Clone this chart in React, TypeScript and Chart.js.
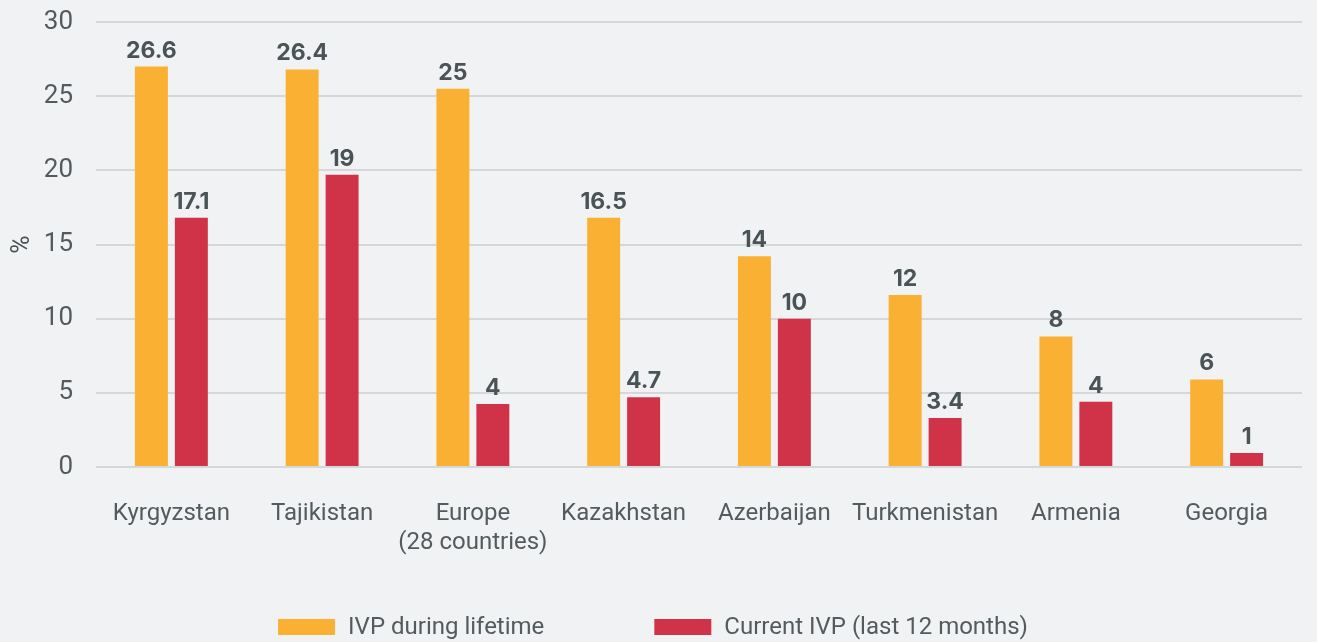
import React, { useEffect, useRef } from 'react';
import { Chart, registerables } from 'chart.js';

Chart.register(...registerables);

const categories: (string | string[])[] = [
  'Kyrgyzstan',
  'Tajikistan',
  ['Europe', '(28 countries)'],
  'Kazakhstan',
  'Azerbaijan',
  'Turkmenistan',
  'Armenia',
  'Georgia',
];

const lifetimeValues = [27.0, 26.8, 25.5, 16.8, 14.2, 11.6, 8.8, 5.9];
const currentValues = [16.8, 19.7, 4.25, 4.7, 10.0, 3.3, 4.4, 0.95];

const lifetimeLabels = ['26.6', '26.4', '25', '16.5', '14', '12', '8', '6'];
const currentLabels = ['17.1', '19', '4', '4.7', '10', '3.4', '4', '1'];

const seriesNames = ['IVP during lifetime', 'Current IVP (last 12 months)'];

const yTicks = [0, 5, 10, 15, 20, 25, 30];

const ORANGE = '#FAB032';
const RED = '#D03248';
const BG = '#F1F2F4';
const TEXT = '#535b5f';
const LABEL = '#4a5356';

const bgPlugin = {
  id: 'bgFill',
  beforeDraw(chart: any) {
    const ctx = chart.ctx;
    ctx.save();
    ctx.fillStyle = BG;
    ctx.fillRect(0, 0, chart.width, chart.height);
    ctx.restore();
  },
};

const valueLabelPlugin = {
  id: 'valueLabels',
  afterDatasetsDraw(chart: any) {
    const ctx = chart.ctx;
    const labelSets = [lifetimeLabels, currentLabels];
    ctx.save();
    ctx.font = '700 23px Inter';
    ctx.fillStyle = LABEL;
    ctx.textAlign = 'center';
    ctx.textBaseline = 'alphabetic';
    chart.data.datasets.forEach((_ds: any, di: number) => {
      const meta = chart.getDatasetMeta(di);
      meta.data.forEach((el: any, i: number) => {
        ctx.fillText(labelSets[di][i], el.x, el.y - 9);
      });
    });
    ctx.restore();
  },
};

const legendPlugin = {
  id: 'bottomLegend',
  afterDraw(chart: any) {
    const ctx = chart.ctx;
    ctx.save();
    ctx.font = '400 24px Roboto';
    ctx.textBaseline = 'middle';
    ctx.textAlign = 'left';
    const items = chart.data.datasets.map((ds: any) => ({
      text: ds.label as string,
      color: ds.backgroundColor as string,
    }));
    const boxW = 57;
    const boxH = 16;
    const gapText = 13;
    const gapItem = 110;
    const widths = items.map((it: any) => boxW + gapText + ctx.measureText(it.text).width);
    const total = widths.reduce((a: number, b: number) => a + b, 0) + gapItem * (items.length - 1);
    let x = chart.width / 2 - 5.5 - total / 2;
    const cy = 627;
    items.forEach((it: any, i: number) => {
      ctx.fillStyle = it.color;
      ctx.fillRect(x, cy - boxH / 2, boxW, boxH);
      ctx.fillStyle = TEXT;
      ctx.fillText(it.text, x + boxW + gapText, cy + 1);
      x += widths[i] + gapItem;
    });
    ctx.restore();
  },
};

export default function App() {
  const canvasRef = useRef<HTMLCanvasElement | null>(null);

  useEffect(() => {
    document.body.style.margin = '0';
    document.body.style.background = BG;
    const canvas = canvasRef.current;
    if (!canvas) return;
    const chart = new Chart(canvas, {
      type: 'bar',
      data: {
        labels: categories,
        datasets: [
          {
            label: seriesNames[0],
            data: lifetimeValues,
            backgroundColor: ORANGE,
            borderWidth: 0,
            barPercentage: 0.825,
            categoryPercentage: 0.53,
          },
          {
            label: seriesNames[1],
            data: currentValues,
            backgroundColor: RED,
            borderWidth: 0,
            barPercentage: 0.825,
            categoryPercentage: 0.53,
          },
        ],
      },
      options: {
        responsive: false,
        maintainAspectRatio: false,
        animation: false,
        devicePixelRatio: 1,
        layout: { padding: { top: 22, left: 8, right: 15, bottom: 0 } },
        plugins: {
          legend: { display: false },
          tooltip: { enabled: false },
        },
        scales: {
          x: {
            grid: { display: false },
            border: { display: false },
            ticks: {
              color: TEXT,
              font: { family: 'Roboto', size: 24, lineHeight: 1.2 },
              padding: 25,
              maxRotation: 0,
              autoSkip: false,
            },
            afterFit: (scale: any) => {
              scale.height = 175;
            },
          },
          y: {
            min: 0,
            max: 30,
            afterBuildTicks: (scale: any) => {
              scale.ticks = yTicks.map((v) => ({ value: v }));
            },
            grid: { color: '#d6d7d9', lineWidth: 2, drawTicks: false },
            border: { display: false },
            ticks: {
              color: TEXT,
              font: { family: 'Roboto', size: 26 },
              padding: 23,
            },
            title: {
              display: true,
              text: '%',
              color: LABEL,
              font: { family: 'Roboto', size: 25 },
              padding: 0,
            },
            afterFit: (scale: any) => {
              scale.width = 88;
              scale.paddingTop = 0;
              scale.paddingBottom = 0;
            },
          },
        },
      },
      plugins: [bgPlugin, valueLabelPlugin, legendPlugin],
    });
    return () => chart.destroy();
  }, []);

  return (
    <div style={{ width: 1317, height: 642, background: BG }}>
      <canvas ref={canvasRef} width={1317} height={642} style={{ display: 'block', width: 1317, height: 642 }} />
    </div>
  );
}
